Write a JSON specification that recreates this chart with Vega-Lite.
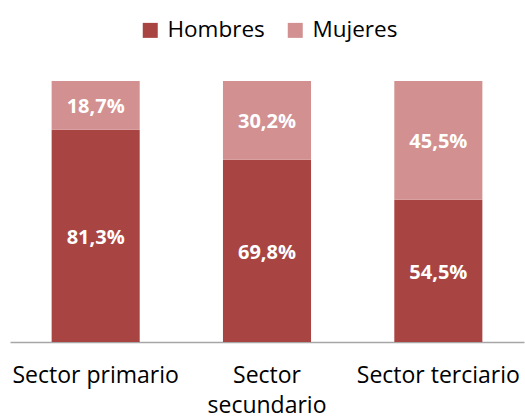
{
  "$schema": "https://vega.github.io/schema/vega-lite/v6.json",
  "width": 514,
  "height": 261,
  "autosize": {"type": "none"},
  "padding": {"left": 10, "top": 81, "right": 1, "bottom": 76},
  "background": "white",
  "config": {
    "view": {"stroke": null},
    "font": "Open Sans"
  },
  "data": {
    "values": [
      {"sector": "Sector primario", "sexo": "Hombres", "valor": 81.3, "orden": 1},
      {"sector": "Sector primario", "sexo": "Mujeres", "valor": 18.7, "orden": 2},
      {"sector": "Sector secundario", "sexo": "Hombres", "valor": 69.8, "orden": 1},
      {"sector": "Sector secundario", "sexo": "Mujeres", "valor": 30.2, "orden": 2},
      {"sector": "Sector terciario", "sexo": "Hombres", "valor": 54.5, "orden": 1},
      {"sector": "Sector terciario", "sexo": "Mujeres", "valor": 45.5, "orden": 2}
    ]
  },
  "transform": [
    {"stack": "valor", "groupby": ["sector"], "sort": [{"field": "orden"}], "as": ["v0", "v1"]},
    {"calculate": "(datum.v0 + datum.v1) / 2", "as": "mid"},
    {"calculate": "replace(format(datum.valor, '.1f'), '.', ',') + '%'", "as": "etiqueta"}
  ],
  "encoding": {
    "x": {
      "field": "sector",
      "type": "nominal",
      "sort": null,
      "scale": {"paddingInner": 0.486, "paddingOuter": 0.243},
      "axis": {
        "title": null,
        "domainColor": "#A6A6A6",
        "domainWidth": 1.5,
        "ticks": false,
        "labelAngle": 0,
        "labelFontSize": 23,
        "labelColor": "#000000",
        "labelPadding": 22,
        "labelLineHeight": 30,
        "labelExpr": "datum.value == 'Sector secundario' ? ['Sector', 'secundario'] : datum.value"
      }
    }
  },
  "layer": [
    {
      "mark": {"type": "bar"},
      "encoding": {
        "y": {"field": "v0", "type": "quantitative", "scale": {"domain": [0, 100]}, "axis": null},
        "y2": {"field": "v1"},
        "color": {
          "field": "sexo",
          "type": "nominal",
          "scale": {"domain": ["Hombres", "Mujeres"], "range": ["#A84543", "#D29090"]},
          "legend": {
            "title": null,
            "orient": "none",
            "legendX": 129,
            "legendY": -62,
            "direction": "horizontal",
            "symbolType": "square",
            "symbolSize": 225,
            "symbolStrokeWidth": 0,
            "labelFontSize": 22.5,
            "labelColor": "#000000",
            "columnPadding": 19,
            "labelOffset": 6
          }
        }
      }
    },
    {
      "mark": {"type": "text", "fontWeight": "bold", "fontSize": 20, "color": "white", "baseline": "middle", "dy": 2},
      "encoding": {
        "y": {"field": "mid", "type": "quantitative", "scale": {"domain": [0, 100]}},
        "text": {"field": "etiqueta", "type": "nominal"}
      }
    }
  ]
}
